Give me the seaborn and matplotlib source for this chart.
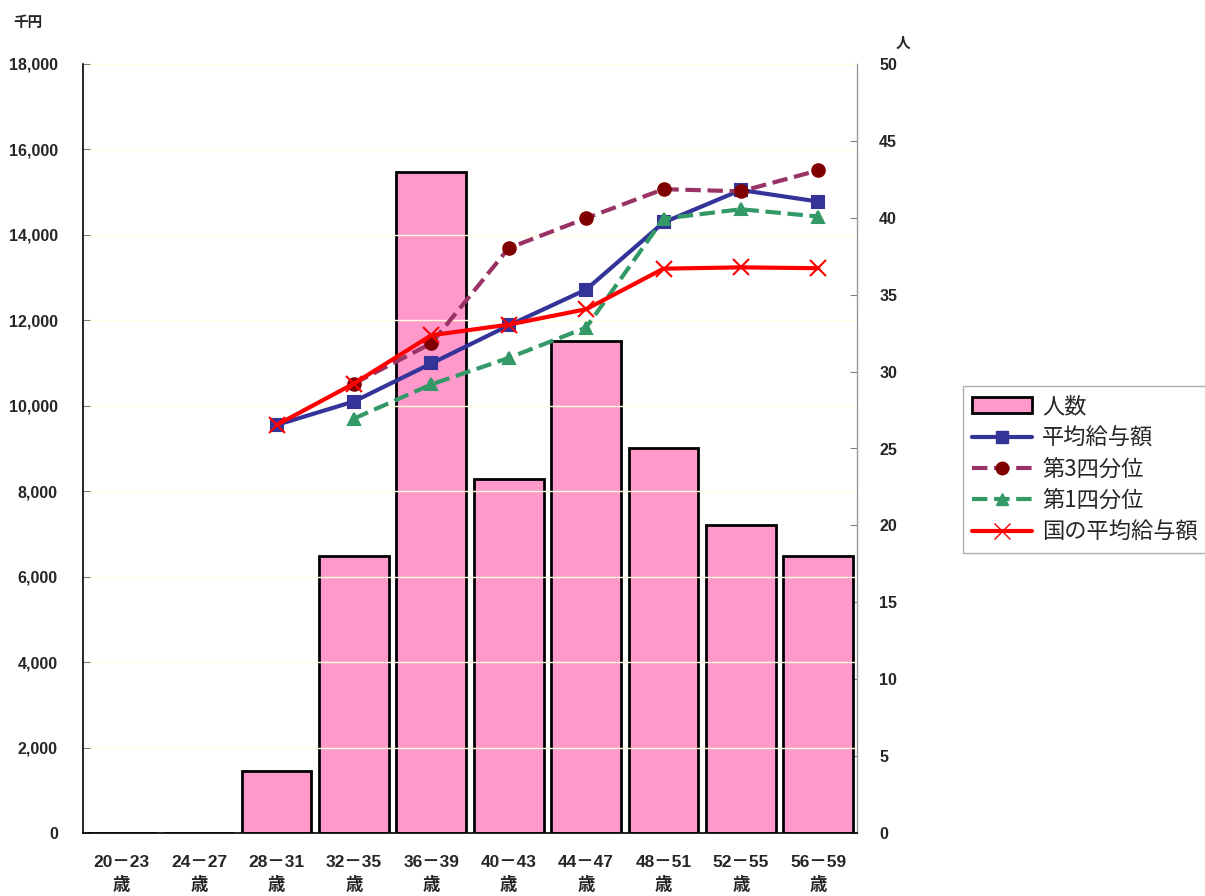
import numpy as np
import pandas as pd
import seaborn as sns
import matplotlib.pyplot as plt
from matplotlib.lines import Line2D
from matplotlib.patches import Patch

# ---------------------------------------------------------------- data
ages = ["20－23\n歳", "24－27\n歳", "28－31\n歳", "32－35\n歳", "36－39\n歳",
        "40－43\n歳", "44－47\n歳", "48－51\n歳", "52－55\n歳", "56－59\n歳"]
ninzu = [0, 0, 4, 18, 43, 23, 32, 25, 20, 18]                    # 人
heikin = [np.nan, np.nan, 9550, 10100, 10990, 11880, 12720, 14290, 15050, 14780]
dai3 = [np.nan, np.nan, np.nan, 10520, 11460, 13690, 14390, 15070, 15020, 15510]
dai1 = [np.nan, np.nan, np.nan, 9700, 10500, 11120, 11830, 14380, 14600, 14430]
kuni = [np.nan, np.nan, 9550, 10520, 11650, 11900, 12260, 13210, 13240, 13220]

sns.set_style("white")
plt.rcParams['font.family'] = ['Noto Sans CJK JP', 'DejaVu Sans']
tickfont = ['Liberation Sans', 'Noto Sans CJK JP']

fig = plt.figure(figsize=(12.05, 8.96), dpi=100)
ax = fig.add_axes([83 / 1205, 63 / 896, 774 / 1205, 769 / 896])   # yen (lines)
ax2 = ax.twinx()                                                 # people (bars)
ax.set_zorder(2)
ax.patch.set_visible(False)
ax2.set_zorder(1)

# bars
df = pd.DataFrame({"age": ages, "n": ninzu})
sns.barplot(data=df, x="age", y="n", ax=ax2, color="#FF99CC", saturation=1,
            width=0.9, edgecolor="black", linewidth=2)
ax2.set_ylim(0, 50)
ax2.set_yticks(range(0, 51, 5))
ax2.set_ylabel("")
ax2.set_xlabel("")

# lines
xs = np.arange(len(ages))
series = [
    ("平均給与額", heikin, "#333399", "-", "s", "#333399"),
    ("第3四分位", dai3, "#993366", "--", "o", "#800000"),
    ("第1四分位", dai1, "#339966", "--", "^", "#339966"),
    ("国の平均給与額", kuni, "#FF0000", "-", "x", "#FF0000"),
]
handles = [Patch(facecolor="#FF99CC", edgecolor="black", linewidth=2, label="人数")]
for name, vals, col, ls, mk, mcol in series:
    sns.lineplot(x=xs, y=vals, ax=ax, color=col, linestyle=ls, linewidth=3,
                 marker=mk, markersize=9 if mk != "x" else 11,
                 markerfacecolor=mcol, markeredgecolor=mcol, markeredgewidth=1.5)
    handles.append(Line2D([], [], color=col, linestyle=ls, linewidth=3, marker=mk,
                          markersize=9 if mk != "x" else 11, markerfacecolor=mcol,
                          markeredgecolor=mcol, label=name))

ax.set_xlim(-0.5, len(ages) - 0.5)
ax.set_ylim(0, 18000)
ax.set_yticks(range(0, 18001, 2000))
ax.set_yticklabels([f"{v:,}" for v in range(0, 18001, 2000)])
ax.grid(axis="y", color="#FFFFE0", linewidth=1)
ax.set_xticks(xs)
ax.set_xticklabels(ages)
ax.set_xticks(np.arange(-0.5, len(ages), 1), minor=True)

for a in (ax, ax2):
    for s in a.spines.values():
        s.set_visible(False)
ax.spines["left"].set_visible(True)
ax.spines["left"].set_color("black")
ax.spines["left"].set_linewidth(1.2)
ax.spines["bottom"].set_visible(True)
ax.spines["bottom"].set_color("black")
ax.spines["bottom"].set_linewidth(1.2)
ax2.spines["right"].set_visible(True)
ax2.spines["right"].set_color("#999999")
ax2.spines["right"].set_linewidth(1)

ax.tick_params(axis="y", direction="in", length=5, color="#808080", labelsize=11.5, pad=18)
ax.tick_params(axis="x", which="major", length=0, labelsize=12.5, pad=16)
ax.tick_params(axis="x", which="minor", direction="in", length=5, color="#808080")
ax2.tick_params(axis="y", direction="in", length=5, color="#808080", labelsize=11.5, pad=16)
for lab in ax.get_yticklabels() + ax2.get_yticklabels() + ax.get_xticklabels():
    lab.set_fontweight("bold")
    lab.set_family(tickfont)
for lab in ax.get_xticklabels():
    lab.set_linespacing(1.4)

fig.text(28 / 1205, 1 - 22 / 896, "千円", fontsize=10.5, fontweight="bold",
         ha="center", va="center")
fig.text(903 / 1205, 1 - 43 / 896, "人", fontsize=10.5, fontweight="bold",
         ha="center", va="center")

leg = fig.legend(handles=handles, loc="upper left", bbox_to_anchor=(963 / 1205, 1 - 386 / 896),
                 fontsize=16, frameon=True, fancybox=False, edgecolor="#999999",
                 handlelength=2.7, handletextpad=0.45, labelspacing=0.38,
                 borderpad=0.4, borderaxespad=0)
leg.get_frame().set_linewidth(1)

fig.savefig("out.png", dpi=100)
